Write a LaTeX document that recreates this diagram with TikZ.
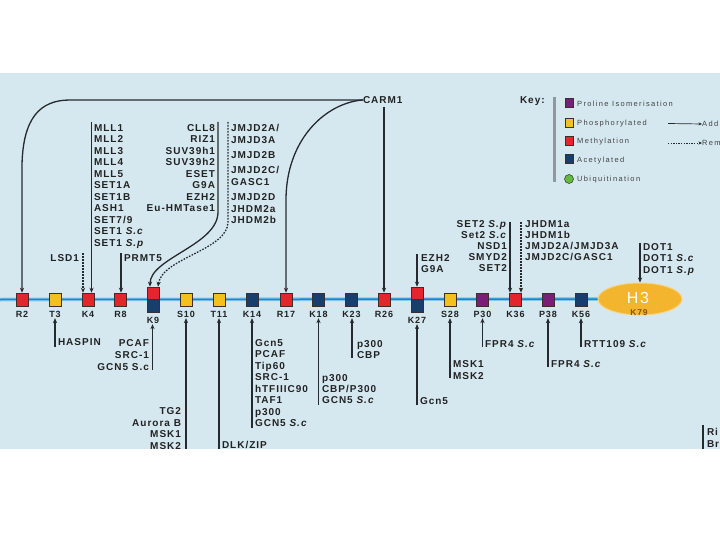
\documentclass[tikz,border=0pt]{standalone}
\usepackage{fontspec}
\setmainfont{Liberation Sans}[LetterSpace=10]
\newfontfamily\keyfont{Liberation Sans}[LetterSpace=18]
\usetikzlibrary{arrows.meta,shapes.geometric}
\definecolor{bg}{HTML}{D5E8F0}
\definecolor{txt}{HTML}{222222}
\definecolor{lin}{HTML}{262A2E}
\definecolor{cred}{HTML}{E3262C}
\definecolor{cyel}{HTML}{F4C01E}
\definecolor{cnavy}{HTML}{173E6C}
\definecolor{cpur}{HTML}{7A1F78}
\definecolor{cgreen}{HTML}{62BB3C}
\definecolor{boxline}{HTML}{3A2E2E}
\definecolor{corange}{HTML}{F4B52E}
\definecolor{corlight}{HTML}{F8D27A}
\definecolor{k79}{HTML}{8A5600}
\definecolor{mainblue}{HTML}{1F84C8}
\definecolor{mainglow}{HTML}{80C8EC}
\definecolor{keybar}{HTML}{8E999F}
\begin{document}
\begin{tikzpicture}[x=1pt,y=-1pt,
  lab/.style={font=\fontsize{10}{11.5}\selectfont\bfseries, text=txt, inner sep=0pt, outer sep=0pt},
  gl/.style={lab, align=left, anchor=north west},
  gr/.style={lab, align=right, anchor=north east},
  sitebox/.style={draw=boxline, line width=0.6pt, minimum width=12pt, minimum height=13pt, inner sep=0pt},
  halfbox/.style={sitebox, minimum height=12.5pt},
  sitelab/.style={font=\fontsize{9}{10}\selectfont\bfseries, text=txt, inner sep=0pt, outer sep=1pt},
  conn/.style={draw=lin, line width=1.3pt, -{Stealth[length=5pt,width=4.2pt]}},
  dconn/.style={conn, dash pattern=on 1.6pt off 1.4pt},
  plainline/.style={draw=lin, line width=1.3pt},
  keytxt/.style={font=\keyfont\fontsize{7.5}{9}\selectfont, text=txt!85, inner sep=0pt, anchor=west},
  keysq/.style={draw=boxline, line width=0.5pt, minimum width=8pt, minimum height=9pt, inner sep=0pt},
]
\useasboundingbox (0,0) rectangle (720,540);
\fill[white] (0,0) rectangle (720,540);
\fill[bg] (0,73) rectangle (720,449);

% ---------- main backbone ----------
\node[ellipse, fill=corange, draw=corlight, line width=1pt, minimum width=84pt, minimum height=32pt, inner sep=0pt] (h3) at (640,299) {};
\draw[mainglow, line width=3.6pt] (0,299.5) -- (h3.west);
\draw[mainblue, line width=1.5pt] (0,299.5) -- (h3.west);
\node[font=\fontsize{16}{16}\selectfont, text=white, inner sep=0pt] (h3t) at (638,298) {H3};
\node[font=\fontsize{8.5}{9}\selectfont\bfseries, text=k79, inner sep=0pt] (k79) at (639,313) {K79};

% ---------- sites ----------
\node[sitebox, fill=cred]  (r2)  at (22,299.5)  {};
\node[sitebox, fill=cyel]  (t3)  at (55,299.5)  {};
\node[sitebox, fill=cred]  (k4)  at (88,299.5)  {};
\node[sitebox, fill=cred]  (r8)  at (120.5,299.5) {};
\node[halfbox, fill=cred]  (k9)  at (153,293.25) {};
\node[halfbox, fill=cnavy] (k9b) at (153,305.75) {};
\node[sitebox, fill=cyel]  (s10) at (186,299.5) {};
\node[sitebox, fill=cyel]  (t11) at (219,299.5) {};
\node[sitebox, fill=cnavy] (k14) at (252,299.5) {};
\node[sitebox, fill=cred]  (r17) at (286,299.5) {};
\node[sitebox, fill=cnavy] (k18) at (318.5,299.5) {};
\node[sitebox, fill=cnavy] (k23) at (351.5,299.5) {};
\node[sitebox, fill=cred]  (r26) at (384,299.5) {};
\node[halfbox, fill=cred]  (k27) at (417,293.25) {};
\node[halfbox, fill=cnavy] (k27b) at (417,305.75) {};
\node[sitebox, fill=cyel]  (s28) at (450,299.5) {};
\node[sitebox, fill=cpur]  (p30) at (482.5,299.5) {};
\node[sitebox, fill=cred]  (k36) at (515.5,299.5) {};
\node[sitebox, fill=cpur]  (p38) at (548,299.5) {};
\node[sitebox, fill=cnavy] (k56) at (581,299.5) {};

\node[sitelab] (r2l)  at (22,314)  {R2};
\node[sitelab] (t3l)  at (55,314)  {T3};
\node[sitelab] (k4l)  at (88,314)  {K4};
\node[sitelab] (r8l)  at (120.5,314) {R8};
\node[sitelab] (k9l)  at (153,320) {K9};
\node[sitelab] (s10l) at (186,314) {S10};
\node[sitelab] (t11l) at (219,314) {T11};
\node[sitelab] (k14l) at (252,314) {K14};
\node[sitelab] (r17l) at (286,314) {R17};
\node[sitelab] (k18l) at (318.5,314) {K18};
\node[sitelab] (k23l) at (351.5,314) {K23};
\node[sitelab] (r26l) at (384,314) {R26};
\node[sitelab] (k27l) at (417,320) {K27};
\node[sitelab] (s28l) at (450,314) {S28};
\node[sitelab] (p30l) at (482.5,314) {P30};
\node[sitelab] (k36l) at (515.5,314) {K36};
\node[sitelab] (p38l) at (548,314) {P38};
\node[sitelab] (k56l) at (581,314) {K56};

% ---------- top labels ----------
\node[gl] (carm) at (363,96.4) {CARM1};
\node[gl] (mll) at (94,124.4) {MLL1\\MLL2\\MLL3\\MLL4\\MLL5\\SET1A\\SET1B\\ASH1\\SET7/9\\SET1 \textit{S.c}\\SET1 \textit{S.p}};
\node[gr] (lsd) at (79,254.4) {LSD1};
\node[gl] (prmt) at (124,254.4) {PRMT5};
\node[gr] (cll) at (215,124.4) {CLL8\\RIZ1\\SUV39h1\\SUV39h2\\ESET\\G9A\\EZH2\\Eu-HMTase1};
\node[gl] (jmjd) at (231,124.4) {JMJD2A/\\JMJD3A\\[4pt]JMJD2B\\[3.5pt]JMJD2C/\\GASC1\\[4pt]JMJD2D\\JHDM2a\\JHDM2b};
\node[gl] (ezh) at (421,254.4) {EZH2\\G9A};
\node[gr, font=\fontsize{10}{11}\selectfont\bfseries] (set2) at (507,220.4) {SET2 \textit{S.p}\\Set2 \textit{S.c}\\NSD1\\SMYD2\\SET2};
\node[gl, font=\fontsize{10}{11}\selectfont\bfseries] (jhdm) at (525,220.4) {JHDM1a\\JHDM1b\\JMJD2A/JMJD3A\\JMJD2C/GASC1};
\node[gl] (dot) at (643,243.4) {DOT1\\DOT1 \textit{S.c}\\DOT1 \textit{S.p}};

% ---------- top connectors ----------
\draw[conn] (carm.west) -- (70,100) .. controls (40,100) and (23,118) .. (22,165) -- (r2.north);
\draw[conn] (carm.west) .. controls (325,103) and (286,140) .. (286,200) -- (r17.north);
\coordinate (carmb) at (384,107);
\draw[conn] (carmb) -- (r26.north);
\coordinate (mlltop) at (91.5,122);
\draw[conn] (mlltop) -- (mlltop |- k4.north);
\coordinate (lsdtop) at (83,253);
\draw[dconn] (lsdtop) -- (lsdtop |- k4.north);
\coordinate (prmttop) at (121,253);
\draw[conn] (prmttop) -- (prmttop |- r8.north);
\coordinate (clltop) at (218,122);
\draw[conn] (clltop) -- (218,212) .. controls (218,245) and (150,258) .. ([xshift=-3pt]k9.north);
\coordinate (jmjdtop) at (228,122);
\draw[dconn] (jmjdtop) -- (228,222) .. controls (228,250) and (162,258) .. ([xshift=5pt]k9.north);
\coordinate (ezhtop) at (417,254);
\draw[conn] (ezhtop) -- (k27.north);
\coordinate (settop) at (510,222);
\draw[conn] (settop) -- (settop |- k36.north);
\coordinate (jhdmtop) at (521,222);
\draw[dconn] (jhdmtop) -- (jhdmtop |- k36.north);
\coordinate (dottop) at (640,243);
\draw[conn] (dottop) -- (h3.north);

% ---------- bottom labels ----------
\node[gl] (haspin) at (58,338.4) {HASPIN};
\node[gr, font=\fontsize{10}{12}\selectfont\bfseries] (pcaf) at (149,339.4) {PCAF\\SRC-1\\GCN5 S.c};
\node[gr] (tg2) at (181,407.9) {TG2\\Aurora B\\MSK1\\MSK2};
\node[gl] (dlk) at (222,441.4) {DLK/ZIP};
\node[gl] (gcn) at (255,339.4) {Gcn5\\PCAF\\Tip60\\SRC-1\\hTFIIIC90\\TAF1\\p300\\GCN5 \textit{S.c}};
\node[gl, font=\fontsize{10}{11}\selectfont\bfseries] (p300a) at (322,374.4) {p300\\CBP/P300\\GCN5 \textit{S.c}};
\node[gl] (p300b) at (357,340.4) {p300\\CBP};
\node[gl] (gcnb) at (420,397.4) {Gcn5};
\node[gl, font=\fontsize{10}{12}\selectfont\bfseries] (msk) at (453,360.4) {MSK1\\MSK2};
\node[gl] (fpra) at (485,340.4) {FPR4 \textit{S.c}};
\node[gl] (fprb) at (551,360.4) {FPR4 \textit{S.c}};
\node[gl] (rtt) at (584,340.4) {RTT109 \textit{S.c}};
\node[gl] (ribr) at (707,428.4) {Ri\\Br};

% ---------- bottom connectors ----------
\coordinate (t3b) at (55,347);   \draw[conn] (t3b) -- (t3b |- t3l.south);
\coordinate (k9bb) at (152.5,370); \draw[conn] (k9bb) -- (k9bb |- k9l.south);
\coordinate (s10b) at (186,449); \draw[conn] (s10b) -- (s10b |- s10l.south);
\coordinate (t11b) at (219,449); \draw[conn] (t11b) -- (t11b |- t11l.south);
\coordinate (k14b) at (252,428); \draw[conn] (k14b) -- (k14b |- k14l.south);
\coordinate (k18b) at (318.5,405); \draw[conn] (k18b) -- (k18b |- k18l.south);
\coordinate (k23b) at (352,358); \draw[conn] (k23b) -- (k23b |- k23l.south);
\coordinate (k27bb) at (417,405); \draw[conn] (k27bb) -- (k27bb |- k27l.south);
\coordinate (s28b) at (450,378); \draw[conn] (s28b) -- (s28b |- s28l.south);
\coordinate (p30b) at (482.5,347); \draw[conn] (p30b) -- (p30b |- p30l.south);
\coordinate (p38b) at (548,367); \draw[conn] (p38b) -- (p38b |- p38l.south);
\coordinate (k56b) at (581,347); \draw[conn] (k56b) -- (k56b |- k56l.south);
\coordinate (ria) at (703,425); \coordinate (rib) at (703,449);
\draw[plainline] (ria) -- (rib);

% ---------- key ----------
\node[gl] (key) at (520,96.4) {Key:};
\coordinate (kbt) at (554,97); \coordinate (kbb) at (554,182);
\draw[keybar, line width=3pt] (kbt) -- (kbb);
\node[keysq, fill=cpur]  (kq1) at (569,103) {};
\node[keysq, fill=cyel]  (kq2) at (569,123) {};
\node[keysq, fill=cred]  (kq3) at (569,141) {};
\node[keysq, fill=cnavy] (kq4) at (569,159) {};
\node[circle, draw=boxline, line width=0.5pt, fill=cgreen, minimum size=9pt, inner sep=0pt] (kq5) at (569,179) {};
\node[keytxt] (kt1) at (577,104) {Proline Isomerisation};
\node[keytxt] (kt2) at (577,124) {Phosphorylated};
\node[keytxt] (kt3) at (577,142) {Methylation};
\node[keytxt] (kt4) at (577,161) {Acetylated};
\node[keytxt] (kt5) at (577,180) {Ubiquitination};
\begin{scope}
\clip (0,0) rectangle (720,540);
\node[keytxt] (ka) at (702,124) {Addition};
\node[keytxt] (kr) at (702,143) {Removal};
\coordinate (kas) at (668,123.5);
\coordinate (krs) at (668,143);
\draw[draw=lin, line width=0.7pt, -{Stealth[length=3.5pt,width=3pt]}] (kas) -- (ka.west);
\draw[draw=lin, line width=0.7pt, dash pattern=on 1.4pt off 1.2pt, -{Stealth[length=3.5pt,width=3pt]}] (krs) -- (kr.west);
\end{scope}
\end{tikzpicture}
\end{document}
